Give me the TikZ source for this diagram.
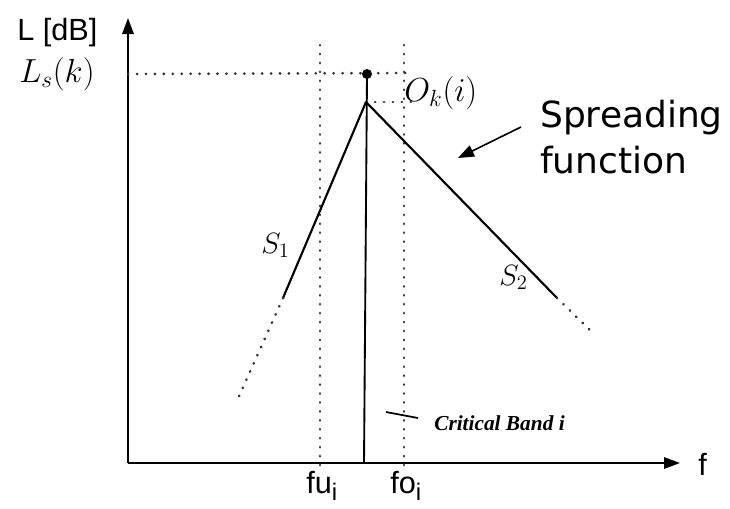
\RequirePackage{fix-cm}
\documentclass[tikz,border=0pt]{standalone}
\usepackage{fontspec}
\setmainfont{DejaVu Sans}
\newfontfamily\arialfont{Liberation Sans}
\newfontfamily\timesfont{Liberation Serif}
\usetikzlibrary{arrows.meta,positioning}

\begin{document}
\begin{tikzpicture}[
  x=0.75pt, y=-0.75pt,
  axis/.style={line width=1.5pt, -{Triangle[length=12pt,width=8.5pt]}},
  slope/.style={line width=1.6pt},
  guide/.style={line width=2.1pt, black!80, line cap=round, dash pattern=on 0.2pt off 6.5pt},
  lbl/.style={inner sep=0pt, anchor=base west},
  mlbl/.style={lbl, font=\fontsize{25pt}{30pt}\selectfont},
  axlbl/.style={lbl, font=\arialfont\fontsize{23pt}{27pt}\selectfont}
]
\useasboundingbox (0,0) rectangle (730,508);

% axes
\coordinate (orig) at (128,463);
\coordinate (ytop) at (128,18);
\coordinate (xend) at (680,463);
\draw[axis] (orig) -- (ytop);
\draw[axis] (orig) -- (xend);
\node[axlbl] (ylab) at (17,40) {L [dB]};
\node[axlbl] (xlab) at (698,475) {f};

% band limits
\coordinate (futop) at (320,45);
\coordinate (fubot) at (320,470);
\coordinate (fotop) at (404,45);
\coordinate (fobot) at (404,470);
\draw[guide] (futop) -- (fubot);
\draw[guide] (fotop) -- (fobot);
\node[axlbl] (fu) at (306,493) {fu\raisebox{-5.5pt}{\fontsize{18pt}{20pt}\selectfont i}};
\node[axlbl] (fo) at (390,493) {fo\raisebox{-5.5pt}{\fontsize{18pt}{20pt}\selectfont i}};

% maximum and offset
\coordinate (top) at (367,74);
\coordinate (peak) at (366,102);
\coordinate (base) at (364,463);
\coordinate (lsend) at (412,73);
\coordinate (okend) at (418,102);
\draw[guide] (orig |- top) -- (lsend);
\draw[guide] (peak) -- (okend);
\draw[line width=1.4pt] (top) -- (base);
\fill (top) circle (5);
\node[mlbl] (ls) at (19,82) {$L_s(k)$};
\node[mlbl] (ok) at (404,101) {$O_k(i)$};

% spreading function
\coordinate (s1a) at (283,298);
\coordinate (s1b) at (236,403);
\coordinate (s2a) at (557,298);
\coordinate (s2b) at (595,335);
\draw[slope] (peak) -- (s1a);
\draw[slope] (peak) -- (s2a);
\draw[guide] (s1a) -- (s1b);
\draw[guide] (s2a) -- (s2b);
\node[mlbl, font=\fontsize{22pt}{26pt}\selectfont] (s1) at (261,253) {$S_1$};
\node[mlbl, font=\fontsize{22pt}{26pt}\selectfont] (s2) at (499,285) {$S_2$};

\node[lbl, font=\fontsize{27pt}{32pt}\selectfont] (spr) at (540,127) {Spreading};
\node[lbl, font=\fontsize{27pt}{32pt}\selectfont] (func) at (540,173) {function};
\coordinate (sprtail) at (521,127);
\coordinate (sprhead) at (458,158);
\draw[line width=1.2pt, -{Triangle[length=12pt,width=9pt]}] (sprtail) -- (sprhead);

% critical band
\coordinate (cba) at (386,412);
\coordinate (cbb) at (418,418);
\draw[line width=1.3pt] (cba) -- (cbb);
\node[lbl, font=\timesfont\bfseries\itshape\fontsize{16pt}{19pt}\selectfont] (cb) at (434,430) {Critical Band i};
\end{tikzpicture}
\end{document}
